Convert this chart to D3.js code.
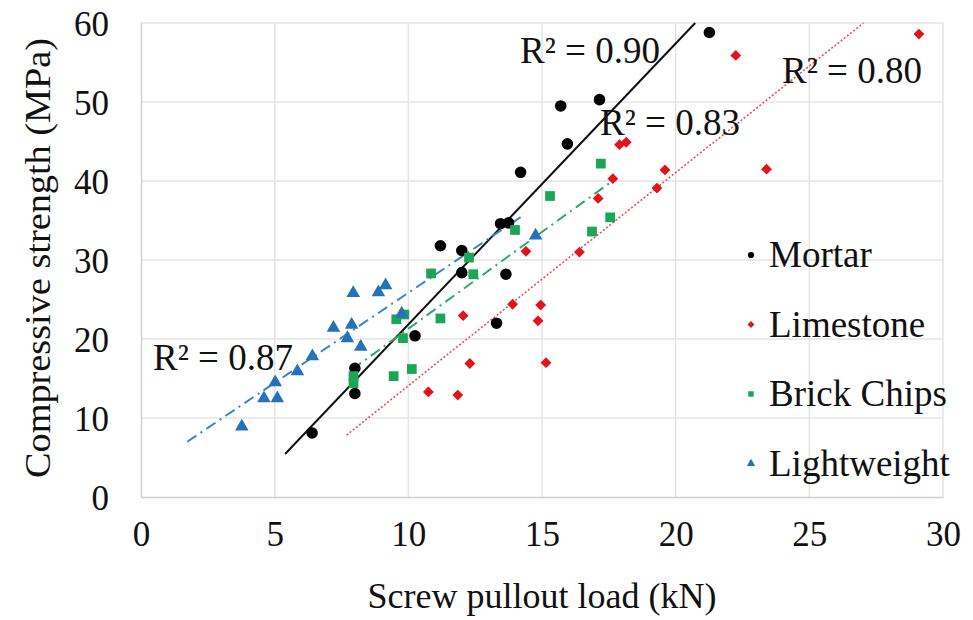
<!DOCTYPE html>
<html lang="en">
<head>
<meta charset="utf-8">
<title>Screw pullout vs compressive strength</title>
<script src="https://d3js.org/d3.v7.min.js"></script>
<style>
  body { margin: 0; background: #fff; }
</style>
</head>
<body>
<div id="viz"></div>
<script>
// series names and data: [pullout load kN, strength MPa]
const seriesNames = ["Mortar", "Limestone", "Brick Chips", "Lightweight"];

const mortar = [
  [6.4, 8.1], [8.0, 16.3], [8.0, 13.1], [10.25, 20.4], [11.2, 31.8], [12.0, 31.2],
  [12.0, 28.4], [13.3, 22.0], [13.45, 34.6], [13.75, 34.7], [13.65, 28.2], [14.2, 41.1],
  [15.7, 49.5], [15.95, 44.7], [17.15, 50.3], [21.26, 58.8]
];
const limestone = [
  [10.75, 13.3], [11.85, 12.9], [12.05, 22.95], [12.3, 16.9], [13.9, 24.4], [14.4, 31.1],
  [14.85, 22.3], [14.95, 24.3], [15.15, 17.0], [16.4, 31.0], [17.1, 37.8], [17.65, 40.3],
  [17.9, 44.6], [18.15, 44.9], [19.3, 39.1], [19.6, 41.4], [22.25, 55.9], [23.4, 41.5],
  [29.1, 58.6]
];
const brickChips = [
  [7.95, 15.3], [7.95, 14.4], [9.45, 15.3], [9.55, 22.5], [9.85, 23.1], [9.8, 20.1],
  [10.13, 16.2], [10.85, 28.3], [11.2, 22.6], [12.27, 30.3], [12.43, 28.2], [13.99, 33.8],
  [15.3, 38.1], [16.87, 33.6], [17.2, 42.2], [17.55, 35.4]
];
const lightweight = [
  [3.77, 8.9], [4.6, 12.5], [5.1, 12.5], [5.02, 14.5], [5.85, 15.9], [6.41, 17.8],
  [7.2, 21.4], [7.72, 20.1], [7.88, 21.8], [8.22, 19.0], [7.94, 25.8], [8.88, 25.9],
  [9.15, 26.8], [9.75, 23.2], [14.76, 33.1]
];

// linear trendlines (slope, intercept, x from, x to) and their R² labels
const trendSlope = [3.557, 2.698, 2.45, 2.28];
const trendIntercept = [-13.73, -12.9, -3.2, 3.05];
const trendFrom = [5.39, 7.69, 7.9, 1.73];
const trendTo = [20.73, 27.02, 17.55, 14.3];
const r2Labels = ["R² = 0.90", "R² = 0.80", "R² = 0.83", "R² = 0.87"];
const r2Pos = [[520, 63], [782, 83], [600, 135], [153, 370]]; // label anchor, px

const xTicks = [0, 5, 10, 15, 20, 25, 30];
const yTicks = [0, 10, 20, 30, 40, 50, 60];

const colors = ["#000000", "#e3121b", "#1ba556", "#2672b8"];
const allData = [mortar, limestone, brickChips, lightweight];

const W = 973, H = 620;
const margin = {top: 23, right: 30, bottom: 123, left: 141};
const width = W - margin.left - margin.right;
const height = H - margin.top - margin.bottom;
const serif = "Liberation Serif";

const svg = d3.select("#viz").append("svg")
    .attr("width", W).attr("height", H);
const g = svg.append("g")
    .attr("transform", `translate(${margin.left},${margin.top})`);

const x = d3.scaleLinear().domain([0, 30]).range([0, width]);
const y = d3.scaleLinear().domain([0, 60]).range([height, 0]);

// gridlines
g.append("g").selectAll("line").data(yTicks.slice(1)).join("line")
    .attr("x1", 0).attr("x2", width)
    .attr("y1", d => y(d)).attr("y2", d => y(d))
    .attr("stroke", "#e4e4e4").attr("stroke-width", 1.5);
g.append("g").selectAll("line").data(xTicks.slice(1)).join("line")
    .attr("y1", 0).attr("y2", height)
    .attr("x1", d => x(d)).attr("x2", d => x(d))
    .attr("stroke", "#e4e4e4").attr("stroke-width", 1.5);

// axes (no tick marks, just the domain line and labels)
const xAxis = g.append("g")
    .attr("transform", `translate(0,${height})`)
    .call(d3.axisBottom(x).tickValues(xTicks).tickSize(0).tickPadding(24));
const yAxis = g.append("g")
    .call(d3.axisLeft(y).tickValues(yTicks).tickSize(0).tickPadding(32));
[xAxis, yAxis].forEach(a => {
  a.attr("font-family", null).attr("font-size", null);
  a.select(".domain").attr("stroke", "#cfcfcf").attr("stroke-width", 1.5);
  a.selectAll("text")
    .attr("font-family", serif).attr("font-size", 35).attr("fill", "#111");
});
yAxis.selectAll("text").attr("dy", "0.36em");

// axis titles
svg.append("text")
    .attr("x", 542).attr("y", 608)
    .attr("text-anchor", "middle")
    .attr("font-family", serif).attr("font-size", 36).attr("fill", "#111")
    .text("Screw pullout load (kN)");
svg.append("text")
    .attr("transform", "translate(50,258) rotate(-90)")
    .attr("text-anchor", "middle")
    .attr("font-family", serif).attr("font-size", 36).attr("fill", "#111")
    .attr("textLength", 440).attr("lengthAdjust", "spacingAndGlyphs")
    .text("Compressive strength (MPa)");

// trendlines
const dashes = [null, "2,2", "11,5,2,5", "11,5,2,5"];
const widths = [2, 1.6, 2, 2];
const lineColors = ["#111", "#e8505a", "#2aa864", "#3a86c4"];
const line = d3.line().x(d => x(d[0])).y(d => y(d[1]));
seriesNames.forEach((name, i) => {
  const pts = [trendFrom[i], trendTo[i]].map(v => [v, trendSlope[i] * v + trendIntercept[i]]);
  g.append("path")
    .datum(pts)
    .attr("fill", "none")
    .attr("stroke", lineColors[i])
    .attr("stroke-width", widths[i])
    .attr("stroke-dasharray", dashes[i])
    .attr("d", line);
});

// markers
const symbols = [d3.symbolCircle, d3.symbolDiamond2, d3.symbolSquare, d3.symbolTriangle];
const sizes = [105, 75, 95, 80];
allData.forEach((data, i) => {
  g.append("g").selectAll("path").data(data).join("path")
    .attr("transform", d => `translate(${x(d[0])},${y(d[1])})`)
    .attr("d", d3.symbol(symbols[i], sizes[i]))
    .attr("fill", colors[i]);
});

// R² labels
r2Labels.forEach((t, i) => {
  svg.append("text")
    .attr("x", r2Pos[i][0]).attr("y", r2Pos[i][1])
    .attr("font-family", serif).attr("font-size", 37).attr("fill", "#111")
    .text(t);
});

// legend
const legend = svg.append("g").attr("transform", "translate(751,255)");
seriesNames.forEach((name, i) => {
  const row = legend.append("g").attr("transform", `translate(0,${i * 69.5})`);
  row.append("path")
    .attr("d", d3.symbol(symbols[i], 30))
    .attr("fill", colors[i]);
  row.append("text")
    .attr("x", 18).attr("y", 12)
    .attr("font-family", serif).attr("font-size", 37).attr("fill", "#111")
    .text(name);
});
</script>
</body>
</html>
